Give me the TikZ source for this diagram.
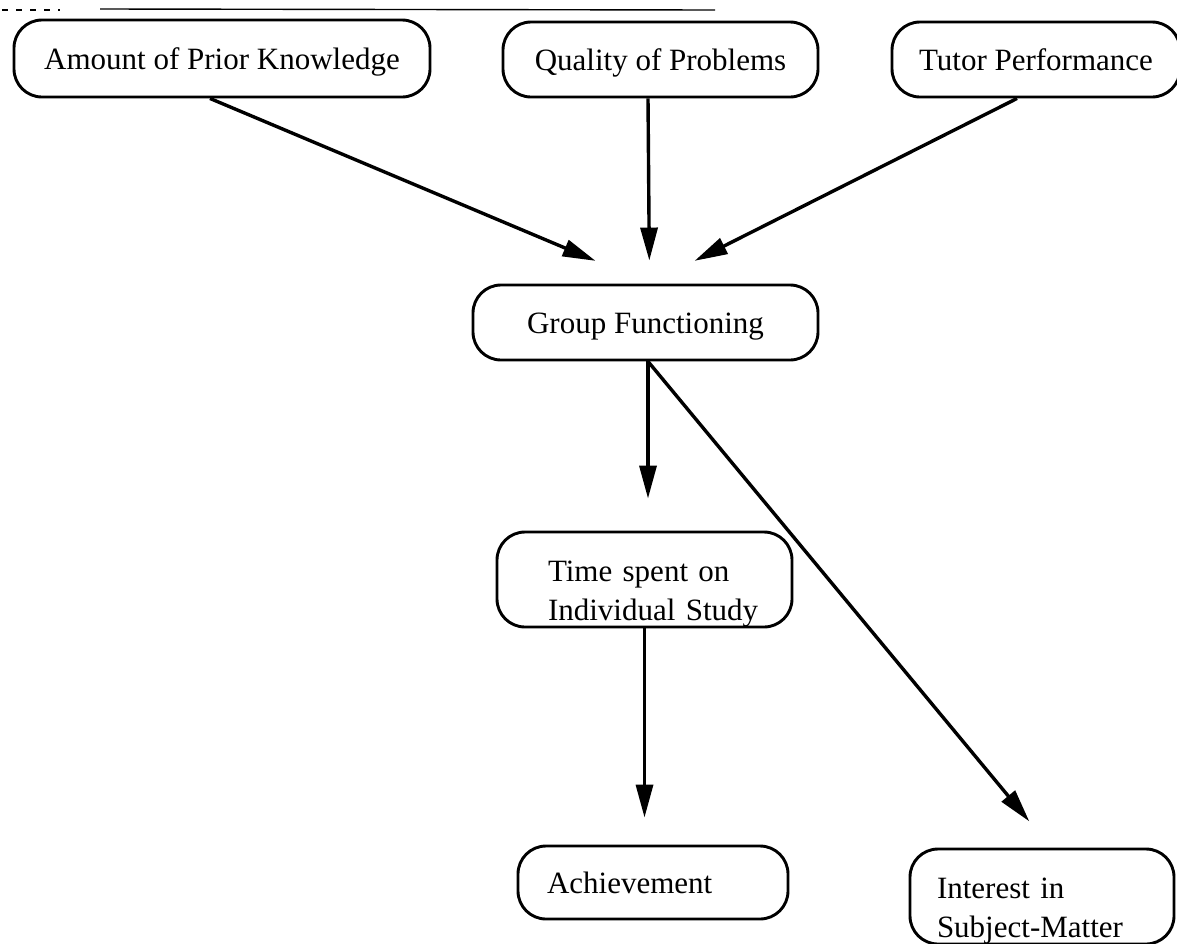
\documentclass[tikz,border=0pt]{standalone}
\usepackage{fontspec}
\setmainfont{Liberation Serif}
\usetikzlibrary{arrows.meta,calc}
\begin{document}
\begin{tikzpicture}[x=1pt,y=-1pt,
  box/.style={draw, line width=2.9pt, rounded corners=28pt, inner sep=0pt,
    font=\fontsize{31}{39}\selectfont},
  one/.style={text height=21pt, text depth=0pt},
  arr/.style={line width=3.4pt, -{Triangle[length=33pt,width=17pt]}}]
\path[use as bounding box] (0,0) rectangle (1177,943);
\clip (0,0) rectangle (1177,943);
% scan edge artefacts
\draw[line width=1.4pt] (100,9) -- (715,10);
\draw[line width=1.2pt, dash pattern=on 6pt off 8pt] (2,10) -- (60,10);
% nodes
\node[box, one, minimum width=416pt, minimum height=77pt] (amount) at (222,58.5) {Amount of Prior Knowledge};
\node[box, one, minimum width=315pt, minimum height=75pt] (quality) at (660.5,59.5) {Quality of Problems};
\node[box, one, minimum width=288pt, minimum height=75pt] (tutor) at (1036,59.5) {Tutor Performance};
\node[box, one, minimum width=345pt, minimum height=75pt] (group) at (645.5,322.5) {Group Functioning};
\node[box, minimum height=95pt, inner xsep=51pt, text width=193pt, align=left] (time) at (644.5,579.5) {\rule{0pt}{49pt}Time~spent~on\\Individual~Study};
\node[box, one, minimum height=73pt, inner xsep=29pt, text width=212pt, align=left] (ach) at (653,882.5) {Achievement};
\node[box, minimum height=95pt, inner xsep=27pt, text width=210pt, align=left] (interest) at (1042,896.5) {\rule{0pt}{49pt}Interest~in\\Subject-Matter};
% connectors
\draw[arr, shorten >=58.5pt] ([xshift=-12pt]amount.south) -- ([xshift=4pt]group.north);
\draw[arr, shorten >=23pt] ([xshift=-12.5pt]quality.south) -- ([xshift=4pt]group.north);
\draw[arr, shorten >=50.5pt] ([xshift=-19pt]tutor.south) -- ([xshift=4pt]group.north);
\draw[arr, shorten >=32pt] ([xshift=2.5pt]group.south) -- ([xshift=3.5pt]time.north);
\draw[arr, shorten >=27pt] (time.south) -- (time.south |- ach.north);
\draw[arr, shorten >=34pt] ([xshift=2.5pt]group.south) -- ([xshift=9pt]interest.north);
\end{tikzpicture}
\end{document}
